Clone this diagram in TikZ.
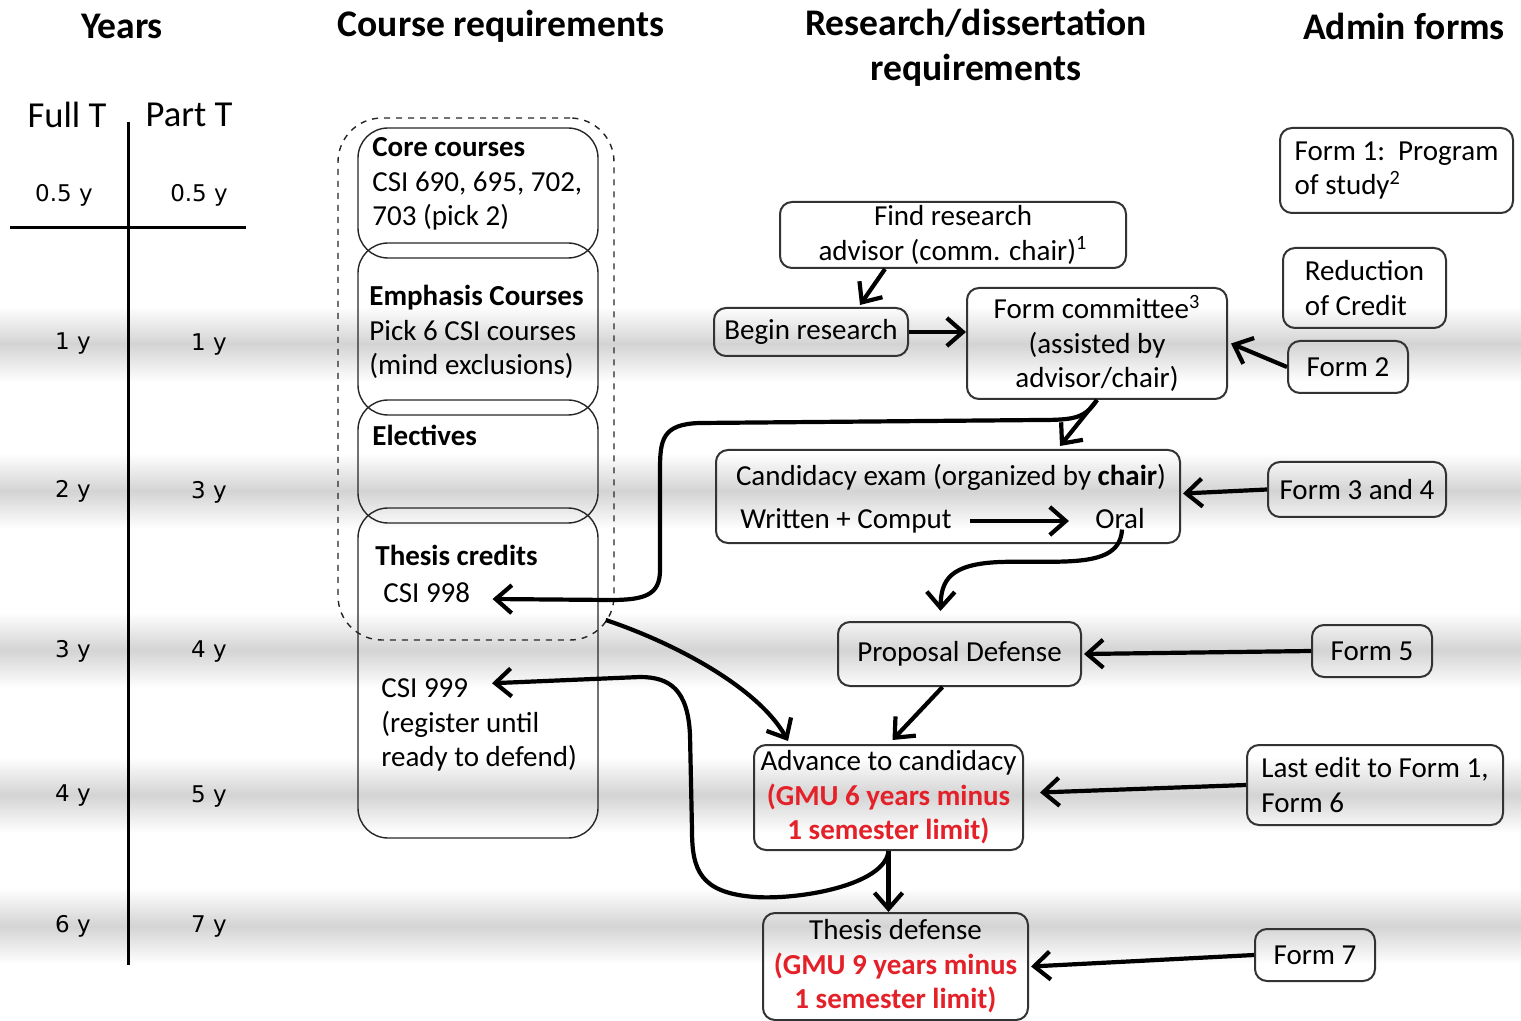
\documentclass[tikz,border=0pt]{standalone}
\usepackage{fontspec}
\setmainfont{Carlito}
\newfontfamily\yrfont{DejaVu Sans}
\usetikzlibrary{arrows.meta,calc}
\definecolor{gmured}{RGB}{228,32,40}
\newcommand\redlim[1]{\textcolor{gmured}{\bfseries #1}}

\begin{document}
\begin{tikzpicture}[x=0.5pt, y=-0.5pt, >={Straight Barb[length=8pt,width=14pt]},
    font=\fontsize{14.5}{17.3}\selectfont,
    hdr/.style={font=\fontsize{18.8}{22.5}\selectfont\bfseries, align=center, inner sep=0pt},
    yr/.style={font=\yrfont\fontsize{11.5}{14}\selectfont, inner sep=0pt},
    box/.style={draw=black!80, line width=1pt, rounded corners=6pt, align=center, inner sep=0pt},
    course/.style={draw=black!85, line width=0.7pt, rounded corners=15pt, minimum width=120pt},
    lbl/.style={inner sep=0pt, align=left},
    link/.style={->, line width=2.1pt}]
    \useasboundingbox (0,0) rectangle (1521,1021);
    % shaded year rows
    \foreach \y in {344,491,650,795,926} {
      \shade[top color=white, bottom color=black!17] (0,\y-38) rectangle (1521,\y);
      \shade[top color=black!17, bottom color=white] (0,\y) rectangle (1521,\y+38);
    }
    % Headings
    \node[hdr] (hyears) at (122,26) {Years};
    \node[hdr] (hcourse) at (501,26) {Course requirements};
    \node[hdr] (hresearch) at (976,48) {Research/dissertation\\requirements};
    \node[hdr] (hadmin) at (1404,26) {Admin forms};
    % Years axis
    \node[hdr, font=\fontsize{18.3}{22}\selectfont] (fullt) at (67,115) {Full T};
    \node[hdr, font=\fontsize{18.3}{22}\selectfont] (partt) at (189,115) {Part T};
    \draw[line width=1.5pt] (128,122) -- (128,965);
    \draw[line width=1.5pt] (10,228) -- (246,228);
    \node[yr] (fullh) at (64,195) {0.5 y};
    \node[yr] (parth) at (199,195) {0.5 y};
    \foreach \f/\p/\y [count=\i] in {1/1/344, 2/3/491, 3/4/651, 4/5/796, 6/7/926} {
      \node[yr] (full\i) at (73,\y) {\f\ y};
      \node[yr] (part\i) at (209,\y+1) {\p\ y};
    }
    % Course requirements
    \node[draw=black!85, line width=0.7pt, dashed, rounded corners=22pt,
          minimum width=138pt, minimum height=261pt] (courses) at (476,379) {};
    \node[course, minimum height=65pt] (core) at (478,193) {};
    \node[course, minimum height=86pt] (emph) at (478,329) {};
    \node[course, minimum height=61.5pt] (elec) at (478,461.5) {};
    \node[course, minimum height=165pt] (thcr) at (478,673) {};
    \node[lbl, anchor=west] (coretxt) at (372,184) {\textbf{Core courses}\\CSI 690, 695, 702,\\703 (pick 2)};
    \node[lbl, anchor=west] (emphtxt) at (369,332) {\textbf{Emphasis Courses}\\Pick 6 CSI courses\\(mind exclusions)};
    \node[lbl, anchor=west] (electxt) at (372,435) {\textbf{Electives}};
    \node[lbl, anchor=west] (thcrtxt) at (375,555) {\textbf{Thesis credits}};
    \node[lbl, anchor=west] (csi998) at (383,593) {CSI 998};
    \node[lbl, anchor=west] (csi999) at (381,725) {CSI 999\\(register until\\ready to defend)};
    % Research / dissertation
    \node[box, minimum width=173pt, minimum height=33pt] (find) at (953,235) {Find research\\advisor (comm. chair)\textsuperscript{1}};
    \node[box, minimum width=97pt, minimum height=24pt] (begin) at (811,332) {Begin research};
    \node[box, minimum width=130pt, minimum height=55.5pt] (cmte) at (1097,343.5) {Form committee\textsuperscript{3}\\(assisted by\\advisor/chair)};
    \node[box, minimum width=232pt, minimum height=46.5pt] (cand) at (948,496.5) {};
    \node[lbl] (candtxt) at (951,477) {Candidacy exam (organized by \textbf{chair})};
    \node[lbl, anchor=west] (wc) at (740,521) {Written + Comput};
    \node[lbl] (oral) at (1120,519) {Oral};
    \node[box, minimum width=121.5pt, minimum height=32pt] (prop) at (959.5,654) {Proposal Defense};
    \node[box, minimum width=134.5pt, minimum height=52.5pt] (adv) at (888.5,797.5) {Advance to candidacy\\\redlim{(GMU 6 years minus}\\\redlim{1 semester limit)}};
    \node[box, minimum width=132.5pt, minimum height=53.5pt] (thes) at (895.5,966.5) {Thesis defense\\\redlim{(GMU 9 years minus}\\\redlim{1 semester limit)}};
    % Admin forms
    \node[box, align=left, minimum width=116.5pt, minimum height=42.5pt] (form1) at (1396.5,170.5) {Form 1:~~Program\\of study\textsuperscript{2}};
    \node[box, align=left, minimum width=81.5pt, minimum height=40pt] (redcr) at (1364.5,288) {Reduction\\of Credit};
    \node[box, minimum width=60pt, minimum height=26pt] (form2) at (1348,367) {Form 2};
    \node[box, minimum width=89pt, minimum height=27.5pt] (form34) at (1357,489.5) {Form 3 and 4};
    \node[box, minimum width=60pt, minimum height=26pt] (form5) at (1372,651) {Form 5};
    \node[box, align=left, minimum width=128pt, minimum height=40pt] (form6) at (1375,785) {Last edit to Form 1,\\Form 6};
    \node[box, minimum width=60pt, minimum height=26pt] (form7) at (1315,955) {Form 7};
    % Flow
    \draw[link] ($(find.south)+(-68,0)$) -- ($(begin.north)+(49,-2)$);
    \draw[link] (begin.east) -- (begin.east -| cmte.west);
    \draw[link] (form2.west) -- ($(cmte.east)+(3,0)$);
    \draw[link] (cmte.south) -- ($(cand.north)+(112,-3)$);
    \draw[link] (cmte.south) .. controls (1085,418) and (1075,420) .. (1040,420) -- (700,423)
        .. controls (662,424) and (660,440) .. (660,470) -- (660,570)
        .. controls (660,595) and (645,600) .. (610,600) -- ($(csi998.east)+(22,6)$);
    \draw[link] ($(wc.east)+(18,0)$) -- ($(oral.west)+(-26,2)$);
    \draw[link] ($(oral.south)+(2,0)$) .. controls (1120,570) and (1060,560) .. (1000,562)
        .. controls (950,564) and (941,580) .. ($(prop.north)+(-19,-10)$);
    \draw[link] (form34.west) -- ($(cand.east)+(2,-3)$);
    \draw[link] (form5.west) -- ($(prop.east)+(2,0)$);
    \draw[link] ($(prop.south)+(-17,0)$) -- ($(adv.north)+(4,-4)$);
    \draw[link] ($(thcr.east)+(7,-53)$) .. controls (680,645) and (760,690) .. ($(adv.north west)+(35,-3)$);
    \draw[link] (form6.west) -- ($(adv.east)+(16,-5)$);
    \draw[link] (adv.south) -- (adv.south |- thes.north);
    \draw[link] (adv.south) .. controls (885,885) and (800,900) .. (755,897)
        .. controls (700,893) and (692,870) .. (692,830) -- (690,735)
        .. controls (688,690) and (670,677) .. (640,677) -- ($(csi999.north west)+(111,5)$);
    \draw[link] (form7.west) -- ($(thes.east)+(2,0)$);
\end{tikzpicture}
\end{document}
